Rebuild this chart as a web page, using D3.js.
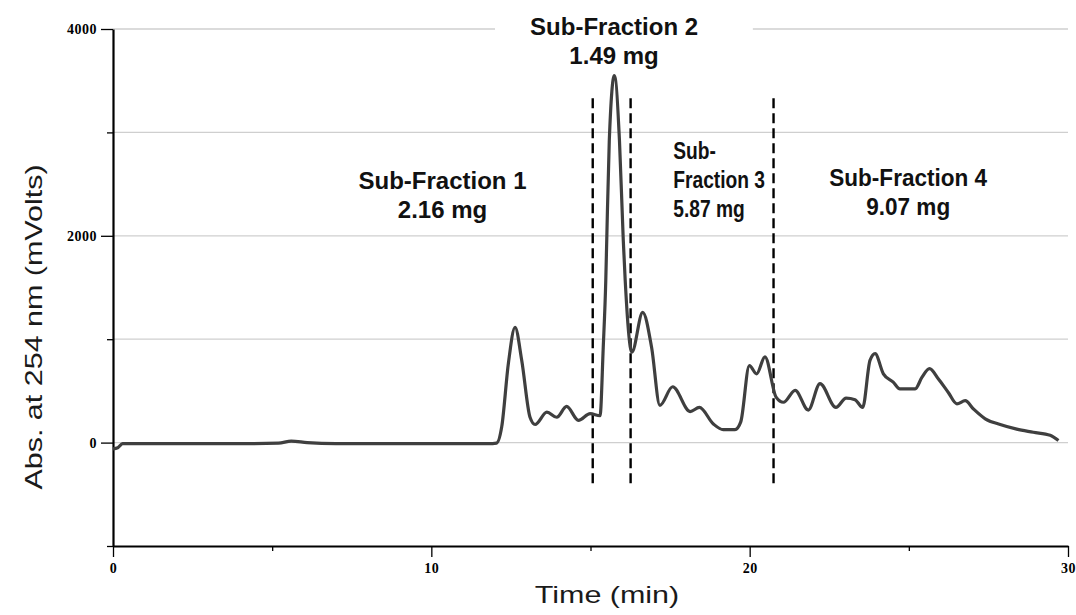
<!DOCTYPE html>
<html>
<head>
<meta charset="utf-8">
<script src="https://cdn.jsdelivr.net/npm/d3@7"></script>
<style>
  body { margin: 0; background: #fff; }
  .title { font-family: "Liberation Sans", Arial, sans-serif; font-size: 24px; fill: #1a1a1a; }
  .ann { font-family: "Liberation Sans", Arial, sans-serif; font-size: 24px; font-weight: bold; fill: #111; }
</style>
</head>
<body>
<svg id="chart"></svg>
<script>
// chromatogram trace: time (min), absorbance (mVolts)
var times = [0, 0.15, 0.3, 2, 4, 5.2, 5.6, 6.1, 7, 9, 11, 11.8, 12.05, 12.21, 12.42, 12.63, 12.84, 13.10, 13.26,
  13.63, 13.94, 14.25, 14.62, 14.99, 15.30, 15.40, 15.48, 15.51, 15.59, 15.75, 15.91, 16.03, 16.09, 16.30, 16.64,
  16.92, 17.18, 17.58, 18.13, 18.42, 18.86, 19.17, 19.54, 19.72, 19.99, 20.22, 20.48, 20.83, 21.06, 21.43, 21.84,
  22.21, 22.71, 23.03, 23.31, 23.55, 23.78, 23.94, 24.20, 24.51, 24.72, 25.20, 25.41, 25.65, 25.93, 26.24, 26.51,
  26.77, 27.03, 27.40, 27.87, 28.39, 28.91, 29.44, 29.70];
var mvolts = [-60, -50, -10, -10, -10, -5, 15, 0, -10, -10, -10, -10, -5, 150, 765, 1115, 795, 245, 175,
  295, 245, 350, 215, 280, 260, 920, 1570, 1955, 2920, 3550, 2920, 1955, 1570, 875, 1260,
  920, 360, 540, 300, 340, 180, 125, 125, 200, 745, 665, 830, 440, 390, 505, 315,
  570, 340, 430, 415, 340, 795, 860, 665, 585, 520, 520, 630, 715, 615, 485, 375,
  405, 325, 230, 175, 130, 100, 70, 20];

// fraction cut points (min)
var cuts = [15.07, 16.26, 20.75];

// labels
var fracLines = [
  ["Sub-Fraction 1", "2.16 mg"],
  ["Sub-Fraction 2", "1.49 mg"],
  ["Sub-", "Fraction 3", "5.87 mg"],
  ["Sub-Fraction 4", "9.07 mg"]
];
var fracX = [10.35, 15.74, 17.6, 24.98];    // label anchor (min)
var fracY = [2455, 3940, 2740, 2480];       // first line baseline (mVolts)
var fracAnchor = ["middle", "middle", "start", "middle"];
var fracScale = [1, 1, 0.8, 0.94];

var xTicks = [0, 10, 20, 30];
var xMinor = [5, 15, 25];
var yTicks = [0, 2000, 4000];
var yMinor = [-1000, 1000, 3000];
var yGrid = [0, 1000, 2000, 3000, 4000];

var W = 1076, H = 615;
var svg = d3.select("#chart").attr("width", W).attr("height", H);

var x = d3.scaleLinear().domain([0, 30]).range([113, 1068]);
var y = d3.scaleLinear().domain([-1000, 4000]).range([546, 29]);

// grid
svg.append("g").selectAll("line").data(yGrid).enter().append("line")
  .attr("x1", x(0)).attr("x2", x(30))
  .attr("y1", function(d){ return y(d); }).attr("y2", function(d){ return y(d); })
  .attr("stroke", "#cfcfcf").attr("stroke-width", 1.3);

// white box behind top label
svg.append("rect")
  .attr("x", x(12.0)).attr("width", x(20.1) - x(12.0))
  .attr("y", 8).attr("height", 64).attr("fill", "#fff");

// axes
var xAxis = svg.append("g").attr("transform", "translate(0," + y(-1000) + ")")
  .call(d3.axisBottom(x).tickValues(xTicks).tickSize(11).tickSizeOuter(0).tickFormat(d3.format("d")));
svg.append("g").attr("transform", "translate(0," + y(-1000) + ")")
  .call(d3.axisBottom(x).tickValues(xMinor).tickSize(5).tickFormat(""))
  .select(".domain").remove();
var yAxis = svg.append("g").attr("transform", "translate(" + x(0) + ",0)")
  .call(d3.axisLeft(y).tickValues(yTicks).tickSize(12).tickSizeOuter(0).tickFormat(d3.format("d")));
svg.append("g").attr("transform", "translate(" + x(0) + ",0)")
  .call(d3.axisLeft(y).tickValues(yMinor).tickSize(6).tickFormat(""))
  .select(".domain").remove();

svg.selectAll(".domain").attr("stroke", "#000").attr("stroke-width", 2.2);
svg.selectAll(".tick line").attr("stroke", "#000").attr("stroke-width", 1.3);
svg.selectAll(".tick text")
  .attr("fill", "#000")
  .attr("font-family", "'Liberation Serif', serif")
  .attr("font-weight", "bold")
  .attr("font-size", 14)
  .attr("letter-spacing", "0.5px");
xAxis.selectAll(".tick text").attr("y", 17).attr("dy", "0.71em");
yAxis.selectAll(".tick text").attr("x", -16);

// dashed cut lines
svg.append("g").selectAll("line").data(cuts).enter().append("line")
  .attr("x1", function(d){ return x(d); }).attr("x2", function(d){ return x(d); })
  .attr("y1", y(3330)).attr("y2", y(-430))
  .attr("stroke", "#000").attr("stroke-width", 2.4).attr("stroke-dasharray", "10,5");

// trace
var pts = times.map(function(t, i){ return [t, mvolts[i]]; });
var line = d3.line()
  .x(function(d){ return x(d[0]); })
  .y(function(d){ return y(d[1]); })
  .curve(d3.curveMonotoneX);
svg.append("path").datum(pts)
  .attr("d", line)
  .attr("fill", "none")
  .attr("stroke", "#3f3f3f")
  .attr("stroke-width", 3.2)
  .attr("stroke-linejoin", "round");

// annotations
fracLines.forEach(function(lines, i){
  var t = svg.append("text").attr("class", "ann").attr("text-anchor", fracAnchor[i])
    .attr("transform", "translate(" + x(fracX[i]) + "," + y(fracY[i]) + ") scale(" + fracScale[i] + ",1)");
  lines.forEach(function(s, j){
    t.append("tspan").attr("x", 0).attr("dy", j === 0 ? 0 : 29).text(s);
  });
});

// axis titles (horizontally stretched like the original)
svg.append("text").attr("class", "title").attr("text-anchor", "middle")
  .attr("transform", "translate(607,603) scale(1.27,1)").text("Time (min)");
svg.append("text").attr("class", "title").attr("text-anchor", "middle")
  .attr("transform", "translate(42,327) rotate(-90) scale(1.27,1)").text("Abs. at 254 nm (mVolts)");
</script>
</body>
</html>
